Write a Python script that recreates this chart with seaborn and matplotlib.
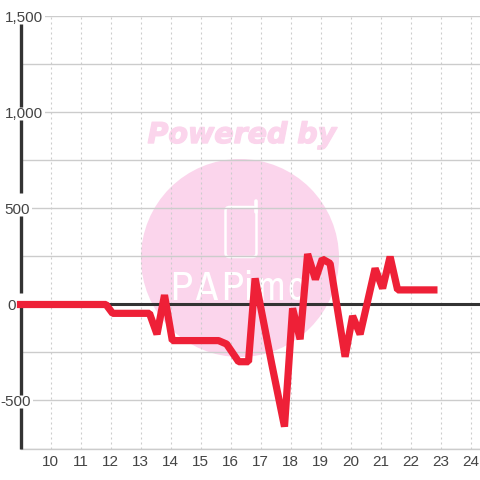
import matplotlib
matplotlib.use("Agg")
import matplotlib.pyplot as plt
import seaborn as sns
import pandas as pd
from matplotlib.patches import Circle, FancyBboxPatch
from matplotlib.lines import Line2D
from matplotlib.transforms import Affine2D
from matplotlib import font_manager as fm
import matplotlib.patheffects as pe

hours = [8.88, 11.85, 12.07, 13.3, 13.55, 13.8, 14.06, 15.6, 15.87, 16.27, 16.6, 16.82,
         17.37, 17.8, 18.07, 18.32, 18.57, 18.83, 19.06, 19.32, 19.82, 20.07, 20.32,
         20.82, 21.07, 21.32, 21.57, 22.9]
values = [0, 0, -46, -46, -155, 49, -188, -188, -206, -298, -298, 136,
          -306, -636, -20, -181, 263, 131, 237, 214, -272, -60, -155,
          188, 84, 249, 76, 76]
x_ticks = list(range(10, 25))
y_ticks = [1500, 1250, 1000, 750, 500, 250, 0, -250, -500, -750]
y_labels = {1500: "1,500", 1000: "1,000", 500: "500", 0: "0", -500: "-500"}

sns.set_theme(style="white")
plt.rcParams["font.family"] = ["Liberation Sans", "DejaVu Sans"]

W = H = 480
fig = plt.figure(figsize=(4.8, 4.8), dpi=100, facecolor="white")
L, R, T, B = 20.5, 480, 16.5, 448.5
ax = fig.add_axes([L / W, 1 - B / H, (R - L) / W, (B - T) / H])

PINK = "#FBD5EC"
TEXT = "#444444"
AXIS = "#333333"
px = Affine2D().scale(1, -1).translate(0, H)

# watermark
ax.add_patch(Circle((240, 258), 99, transform=px, fc=PINK, ec="none", zorder=0.2, clip_on=False))
ax.text(242, 135, "Powered by", transform=px, ha="center", va="center", fontsize=20.5,
        family="DejaVu Sans", weight="bold", style="italic", color=PINK, zorder=0.3,
        path_effects=[pe.withStroke(linewidth=1.0, foreground=PINK)])
ax.add_patch(FancyBboxPatch((225.5, 207), 31, 50, boxstyle="round,pad=0,rounding_size=4", transform=px,
                            fc="none", ec="white", lw=1.8, zorder=0.3))
ax.add_line(Line2D([255.5, 255.5], [201, 212], transform=px, color="white", lw=2.6,
                   solid_capstyle="round", zorder=0.3))
narrow = [f.name for f in fm.fontManager.ttflist if "Narrow" in f.name or "Condensed" in f.name]
logo_font = narrow[0] if narrow else "Liberation Sans"
for letter, cx in zip("PAPimo", [181, 206, 232, 248, 271, 297]):
    ax.text(cx, 288, letter, transform=px, ha="center", va="center", fontsize=29,
            family=logo_font, color="white", zorder=0.3)

df = pd.DataFrame({"hour": hours, "value": values})
sns.lineplot(data=df, x="hour", y="value", ax=ax, sort=False, estimator=None, color="#EE2037",
             linewidth=5.2, solid_joinstyle="bevel", solid_capstyle="butt", zorder=5, clip_on=False)

ax.set_xlim(9, 9 + (R - L) / 30)
ax.set_ylim(-750, 1500)
ax.set_xlabel("")
ax.set_ylabel("")
ax.set_xticks(x_ticks)
ax.set_xticklabels([str(v) for v in x_ticks])
ax.set_yticks(y_ticks)
ax.set_yticklabels([y_labels.get(v, "") for v in y_ticks])
ax.set_axisbelow(False)
ax.grid(axis="y", color="#CCCCCC", lw=1.0, ls="-")
ax.grid(axis="x", color="#CCCCCC", lw=0.8, ls=(0, (1.8, 2.7)))
ax.tick_params(axis="x", length=0, pad=4.5, labelsize=11, labelcolor=TEXT)
ax.tick_params(axis="y", length=0, labelsize=11, labelcolor=TEXT)

label_pads = {1500: -16.2, 1000: -16.2, 500: -6.8, 0: 3.2, -500: -7.5}
for v, tick in zip(y_ticks, ax.yaxis.get_major_ticks()):
    if v in y_labels:
        tick.set_pad(label_pads[v])
        tick.label1.set_bbox(dict(fc="white", ec="none", pad=1.5))

for side in ("top", "right", "left"):
    ax.spines[side].set_visible(False)
ax.spines["bottom"].set_color("#CCCCCC")
ax.spines["bottom"].set_linewidth(1.0)
for y0, y1 in [(24, 107), (120, 193), (216, 293), (307, 395), (408, 448.5)]:
    ax.add_line(Line2D([20.5, 20.5], [y0, y1], transform=px, color=AXIS, lw=2.4,
                       solid_capstyle="butt", zorder=4, clip_on=False))
ax.axhline(0, color=AXIS, lw=2.2, zorder=3)

fig.savefig("out.png", dpi=100)
